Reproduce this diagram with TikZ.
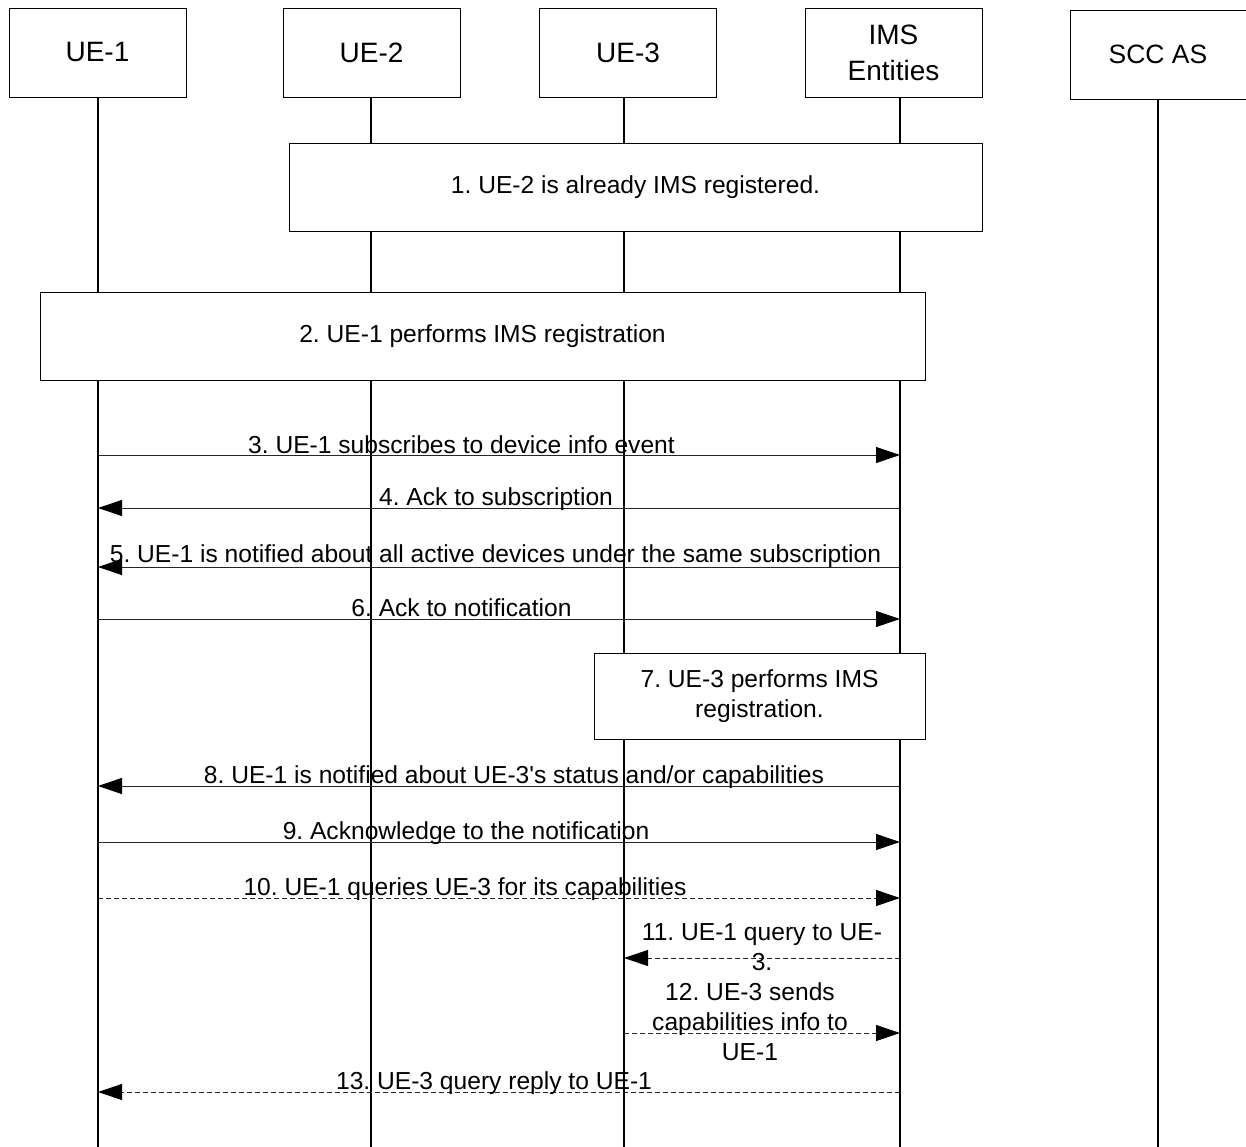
\documentclass[tikz,border=0pt]{standalone}
\usepackage{fontspec}
\setmainfont{Liberation Sans}[Ligatures=TeXOff]
\usetikzlibrary{arrows.meta}
\frenchspacing
\begin{document}
\begin{tikzpicture}[x=1pt,y=-1pt,
  actor/.style={draw, line width=0.9pt, minimum width=177pt, minimum height=89pt, inner sep=0pt, align=center, font=\fontsize{28}{36}\selectfont},
  lifeline/.style={line width=2pt},
  stepbox/.style={draw, fill=white, line width=0.9pt, inner sep=0pt, align=center, font=\fontsize{24.6}{30}\selectfont},
  msg/.style={line width=0.9pt, draw=black!85, -{Triangle[length=24pt,width=16pt,color=black]}},
  dmsg/.style={msg, dash pattern=on 5pt off 3pt},
  lbl/.style={inner sep=0pt, anchor=base, align=center, font=\fontsize{24.6}{30}\selectfont}
]
\useasboundingbox (0,0) rectangle (1246,1147);

% actors
\node[actor] (ue1) at (97.5,52.5) {UE-1};
\node[actor] (ue2) at (371.5,52.5) {UE-2};
\node[actor] (ue3) at (628,52.5) {UE-3};
\node[actor] (ims) at (893.5,52.5) {IMS\\Entities};
\node[actor, font=\fontsize{26.5}{32}\selectfont, minimum width=176pt] (scc) at (1158,54.5) {SCC AS};

% lifeline ends
\coordinate (ue1end) at (98,1147);
\coordinate (ue2end) at (371,1147);
\coordinate (ue3end) at (624,1147);
\coordinate (imsend) at (900,1147);
\coordinate (sccend) at (1158,1147);

\draw[lifeline] (ue1.south -| ue1end) -- (ue1end);
\draw[lifeline] (ue2.south -| ue2end) -- (ue2end);
\draw[lifeline] (ue3.south -| ue3end) -- (ue3end);
\draw[lifeline] (ims.south -| imsend) -- (imsend);
\draw[lifeline] (scc.south -| sccend) -- (sccend);

% boxes
\node[stepbox, minimum width=693pt, minimum height=88pt] (s1) at (635.5,187) {1. UE-2 is already IMS registered.};
\node[stepbox, minimum width=885pt, minimum height=88pt] (s2) at (482.5,336) {2. UE-1 performs IMS registration};
\node[stepbox, minimum width=331pt, minimum height=86pt] (s7) at (759.5,696) {7. UE-3 performs IMS\\registration.};

% message endpoints
\coordinate (m3a) at (98,455);   \coordinate (m3b) at (900,455);
\coordinate (m4a) at (900,508);  \coordinate (m4b) at (98,508);
\coordinate (m5a) at (900,567);  \coordinate (m5b) at (98,567);
\coordinate (m6a) at (98,619);   \coordinate (m6b) at (900,619);
\coordinate (m8a) at (900,786);  \coordinate (m8b) at (98,786);
\coordinate (m9a) at (98,842);   \coordinate (m9b) at (900,842);
\coordinate (m10a) at (98,898);  \coordinate (m10b) at (900,898);
\coordinate (m11a) at (900,958); \coordinate (m11b) at (624,958);
\coordinate (m12a) at (624,1033); \coordinate (m12b) at (900,1033);
\coordinate (m13a) at (900,1092); \coordinate (m13b) at (98,1092);

\draw[msg] (m3a) -- (m3b);
\draw[msg] (m4a) -- (m4b);
\draw[msg] (m5a) -- (m5b);
\draw[msg] (m6a) -- (m6b);
\draw[msg] (m8a) -- (m8b);
\draw[msg] (m9a) -- (m9b);
\draw[dmsg] (m10a) -- (m10b);
\draw[dmsg] (m11a) -- (m11b);
\draw[dmsg] (m12a) -- (m12b);
\draw[dmsg] (m13a) -- (m13b);

% labels
\node[lbl] (l3) at (461.5,453) {3. UE-1 subscribes to device info event};
\node[lbl] (l4) at (496,505) {4. Ack to subscription};
\node[lbl] (l5) at (495.5,562) {5. UE-1 is notified about all active devices under the same subscription};
\node[lbl] (l6) at (461.5,616) {6. Ack to notification};
\node[lbl] (l8) at (514,783) {8. UE-1 is notified about UE-3's status and/or capabilities};
\node[lbl] (l9) at (466,839) {9. Acknowledge to the notification};
\node[lbl] (l10) at (465,895) {10. UE-1 queries UE-3 for its capabilities};
\node[lbl] (l11) at (762,970) {11. UE-1 query to UE-\\3.};
\node[lbl] (l12) at (750,1060) {12. UE-3 sends\\capabilities info to\\UE-1};
\node[lbl] (l13) at (494,1089) {13. UE-3 query reply to UE-1};
\end{tikzpicture}
\end{document}
